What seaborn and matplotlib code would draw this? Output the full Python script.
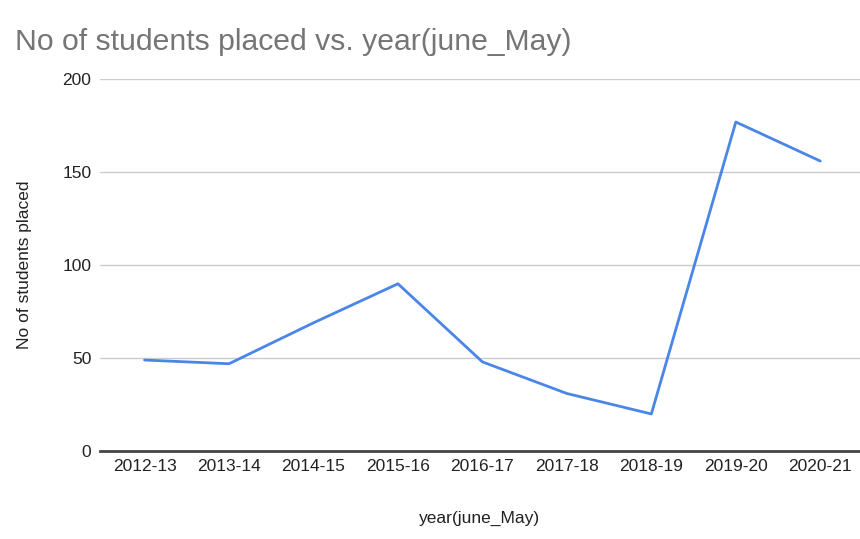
import pandas as pd
import matplotlib.pyplot as plt
import seaborn as sns

years = ["2012-13", "2013-14", "2014-15", "2015-16", "2016-17",
         "2017-18", "2018-19", "2019-20", "2020-21"]
placed = [49, 47, 69, 90, 48, 31, 20, 177, 156]
y_ticks = [0, 50, 100, 150, 200]

sns.set_theme(style="white")
plt.rcParams["font.family"] = ["Liberation Sans", "DejaVu Sans"]

df = pd.DataFrame({"year": years, "placed": placed})

fig = plt.figure(figsize=(8.6, 5.39), dpi=100)
ax = fig.add_axes([0.116, 0.163, 0.884, 0.69])

ax.set_ylim(0, 200)
ax.set_yticks(y_ticks)
ax.yaxis.grid(True, color="#cccccc", linewidth=1)
ax.set_axisbelow(True)

sns.lineplot(data=df, x="year", y="placed", color="#4a86e8",
             linewidth=2, ax=ax, sort=False)

ax.set_xlim(-0.53, 8.47)
for side in ["top", "right", "left"]:
    ax.spines[side].set_visible(False)
ax.spines["bottom"].set_color("#444444")
ax.spines["bottom"].set_linewidth(2)
ax.tick_params(axis="both", length=0, labelsize=12.5, colors="#222222")
ax.tick_params(axis="x", pad=6)
ax.tick_params(axis="y", pad=6)

ax.set_xlabel("year(june_May)", fontsize=12.5, color="#222222")
ax.set_ylabel("No of students placed", fontsize=12.5, color="#222222")
ax.xaxis.set_label_coords(0.5, -0.161)
ax.yaxis.set_label_coords(-0.089, 0.5)

fig.text(0.017, 0.923, "No of students placed vs. year(june_May)",
         fontsize=21.7, color="#757575", ha="left", va="center")

fig.savefig("out.png", dpi=100)
plt.close(fig)
